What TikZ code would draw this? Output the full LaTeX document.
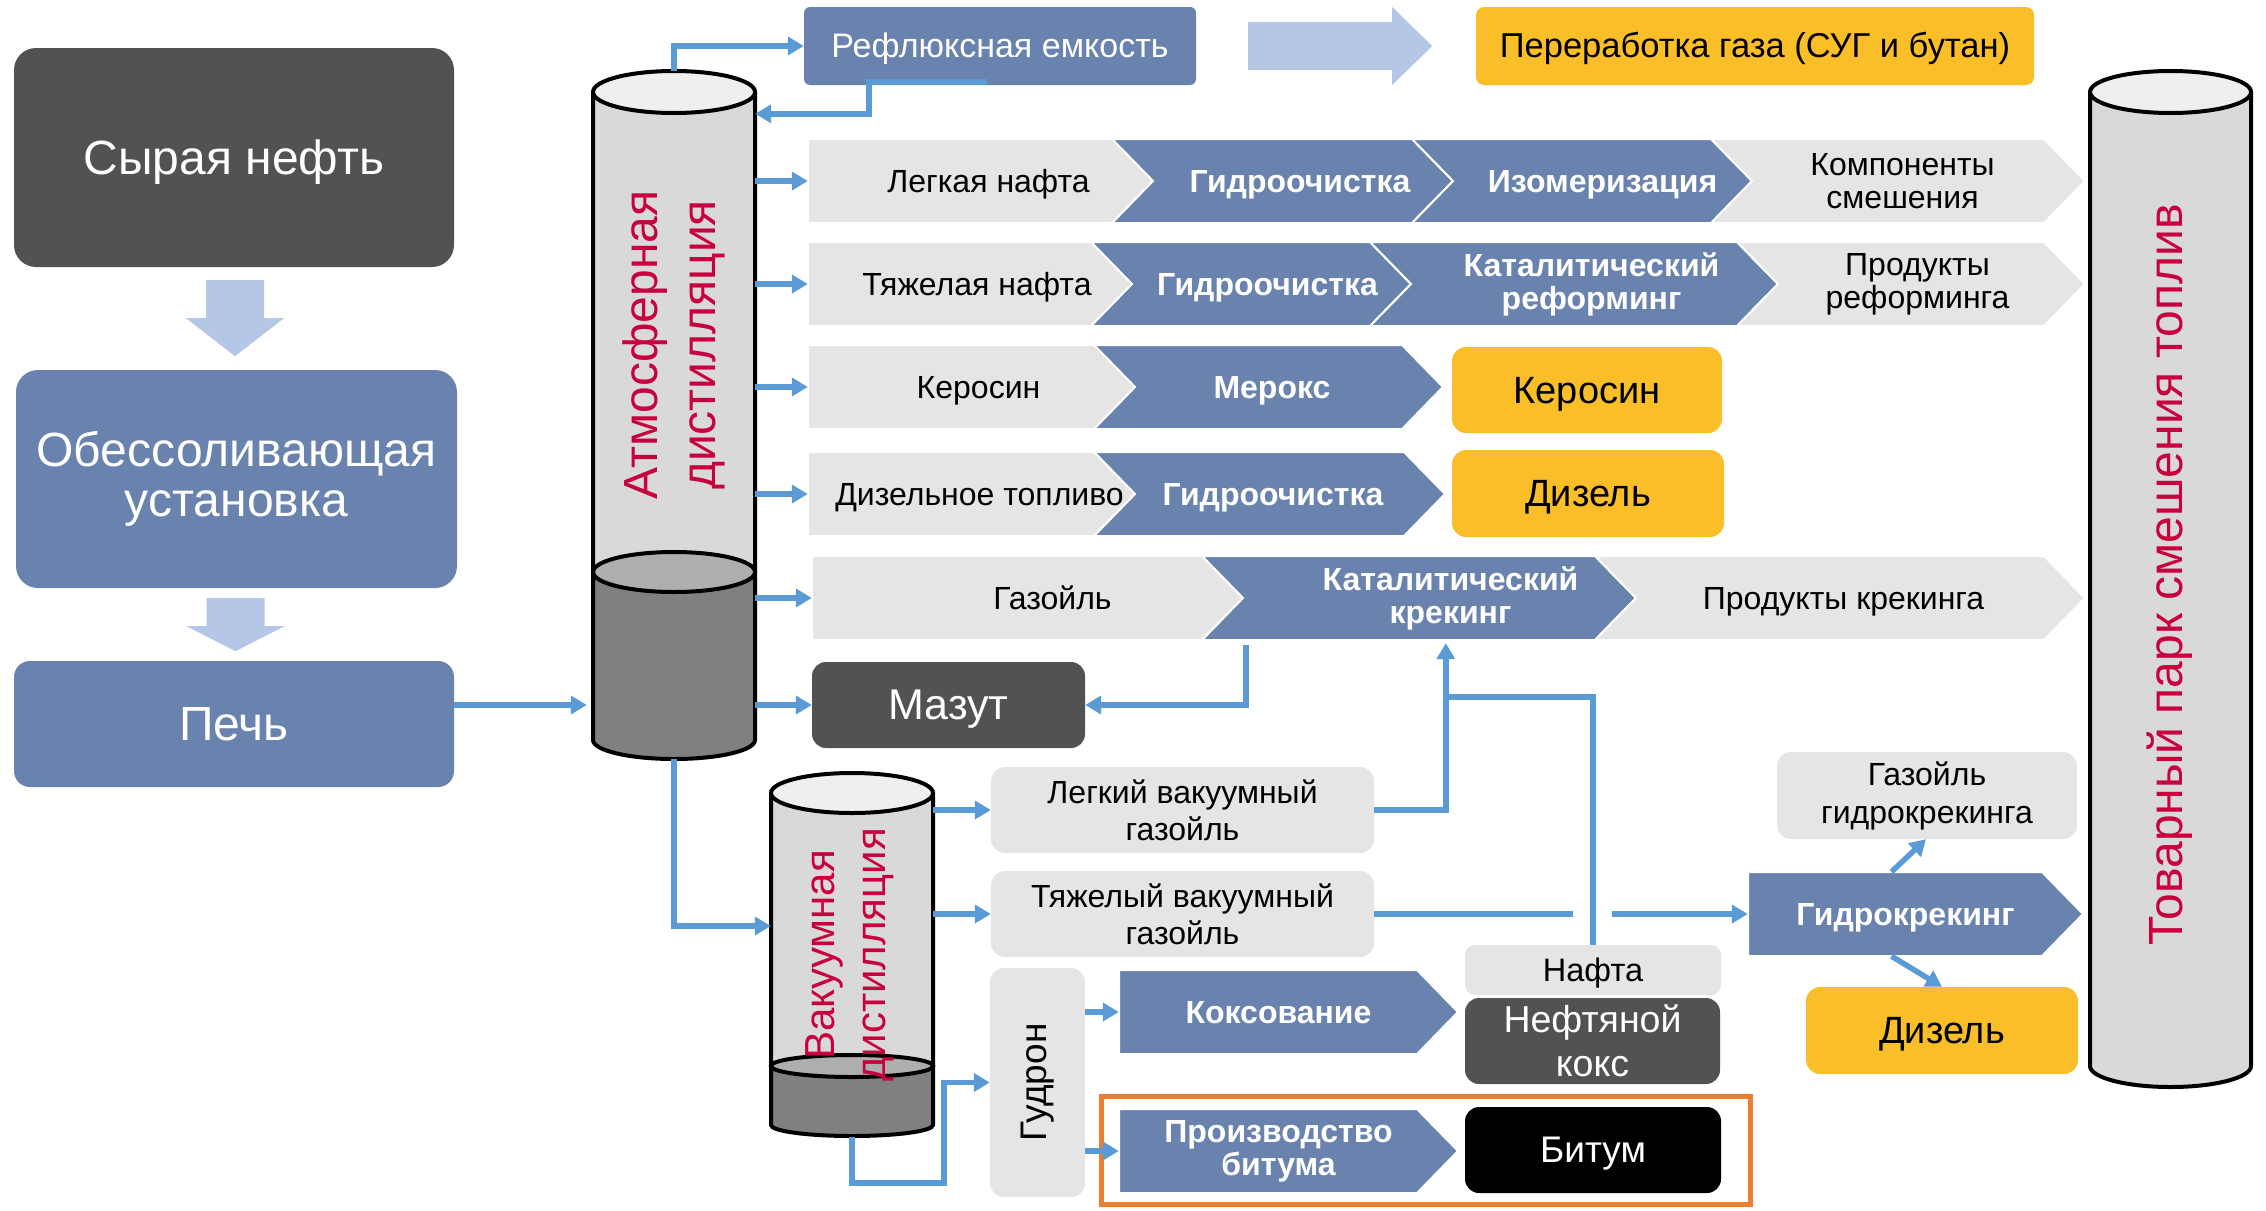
\documentclass[tikz,border=0pt]{standalone}
\usepackage{fontspec}
\setmainfont{Liberation Sans}
\usepackage{xcolor}
\usepackage{tikz}
\usetikzlibrary{calc}
\usetikzlibrary{arrows.meta}
\definecolor{darkfill}{HTML}{525252}
\definecolor{steel}{HTML}{6983AE}
\definecolor{lightbox}{HTML}{E5E5E5}
\definecolor{amber}{HTML}{F9BE28}
\definecolor{paleblue}{HTML}{B4C7E7}
\definecolor{flowblue}{HTML}{5B9BD5}
\definecolor{crimson}{HTML}{C8003E}
\definecolor{framecol}{HTML}{ED7D31}
\definecolor{colupper}{HTML}{D9D9D9}
\definecolor{coltop}{HTML}{EFEFEF}
\definecolor{liquidtop}{HTML}{AEAEAE}
\definecolor{liquid}{HTML}{808080}
\newcommand{\fsz}[2]{\fontsize{#1}{#2}\selectfont}
% [#1 text shift] #2 name, #3 style, #4 left, #5 body end, #6 centre y, #7 notch, #8 text
\newcommand{\chev}[8][0]{%
  \filldraw[#3, draw=white, line width=2pt] (#4,#6-42) -- (#5,#6-42) -- (#5+41,#6)
    -- (#5,#6+42) -- (#4,#6+42) -- (#4+#7,#6) -- cycle;
  \node[#3, fill=none, draw=none, inner sep=0pt, minimum height=84pt,
    minimum width={#5+41-#4-#7}] (#2) at ({(#4+#7+#5+41)/2},#6) {};
  \node[#3, fill=none, draw=none, inner sep=0pt] (#2txt) at ($(#2)+(#1,0)$) {#8};}

\begin{document}
\begin{tikzpicture}[x=1pt, y=-1pt,
  flow/.style={draw=flowblue, line width=5.5pt, -{Triangle[length=16pt,width=18pt]}},
  pipe/.style={draw=flowblue, line width=5.5pt},
  box/.style={inner sep=0pt, align=center, rounded corners=#1},
  box/.default=14pt,
  oneline/.style={text height=0.9*#1pt, text depth=0.21*#1pt},
  oneline/.default=32,
  darkbox/.style={fill=darkfill, text=white},
  steelbox/.style={fill=steel, text=white},
  amberbox/.style={fill=amber, text=black},
  greybox/.style={fill=lightbox, text=black},
  greychev/.style={fill=lightbox, text=black, align=center, font=\fsz{32}{33}},
  bluechev/.style={fill=steel, text=white, align=center, font=\bfseries\fsz{32}{33}},
  blockarrow/.style={fill=paleblue},
  colline/.style={draw=black, line width=4pt},
  coltext/.style={text=crimson, rotate=90, align=center, inner sep=0pt}]
  \useasboundingbox (0,0) rectangle (2266,1210);

  % left boxes
  \node[box=22pt, darkbox, oneline=48, minimum width=440pt, minimum height=219pt, font=\fsz{48}{52}] (crude) at (234,157.5) {Сырая нефть};
  \node[box=22pt, steelbox, minimum width=441pt, minimum height=218pt, font=\fsz{48}{50}] (desalt) at (236.5,479) {Обессоливающая\\установка};
  \node[box=16pt, steelbox, oneline=48, minimum width=440pt, minimum height=126pt, font=\fsz{48}{52}] (furnace) at (234,724) {Печь};
  \fill[blockarrow] ($(crude.south)+(-28,13)$) -- ++(0,38) -- ++(-20,0) -- ++(49,38)
    -- ++(49,-38) -- ++(-20,0) -- ++(0,-38) -- cycle;
  \fill[blockarrow] ($(desalt.south)+(-30,10)$) -- ++(0,28) -- ++(-20,0) -- ++(49,25)
    -- ++(49,-25) -- ++(-20,0) -- ++(0,-28) -- cycle;

  % atmospheric column
  \fill[colupper] (593,92) rectangle (755,572);
  \fill[liquid] (593,572) -- (593,740) arc[start angle=180, end angle=0, x radius=81, y radius=19] -- (755,572) -- cycle;
  \filldraw[colline, fill=liquidtop] (674,572) ellipse[x radius=81, y radius=20];
  \draw[colline] (593,92) -- (593,740) arc[start angle=180, end angle=0, x radius=81, y radius=19] -- (755,92);
  \filldraw[colline, fill=coltop] (674,92) ellipse[x radius=81, y radius=21];
  \node[inner sep=0pt, minimum width=162pt, minimum height=688pt] (atm) at (674,415) {};
  \node[coltext, font=\fsz{48}{58}] (atmlbl) at (674,345) {Атмосферная\\дистилляция};

  % vacuum column
  \fill[colupper] (771,793) rectangle (933,1066);
  \fill[liquid] (771,1066) -- (771,1125) arc[start angle=180, end angle=0, x radius=81, y radius=11] -- (933,1066) -- cycle;
  \filldraw[colline, fill=liquidtop] (852,1066) ellipse[x radius=81, y radius=11];
  \draw[colline] (771,793) -- (771,1125) arc[start angle=180, end angle=0, x radius=81, y radius=11] -- (933,793);
  \filldraw[colline, fill=coltop] (852,793) ellipse[x radius=81, y radius=20];
  \node[inner sep=0pt, minimum width=162pt, minimum height=364pt] (vac) at (852,955) {};
  \node[coltext, font=\fsz{42}{51}] (vaclbl) at (850,955) {Вакуумная\\дистилляция};

  % blending park column
  \fill[colupper] (2090,92) rectangle (2251,1066);
  \draw[colline, fill=colupper] (2090,92) -- (2090,1066) arc[start angle=180, end angle=0, x radius=80.5, y radius=21] -- (2251,92);
  \filldraw[colline, fill=coltop] (2170.5,92) ellipse[x radius=80.5, y radius=21];
  \node[coltext, font=\fsz{48}{58}] (parklbl) at (2170,575) {Товарный парк смешения топлив};

  % top row
  \node[box=6pt, steelbox, oneline=34, minimum width=392pt, minimum height=78pt, font=\fsz{34}{38}] (reflux) at (1000,46) {Рефлюксная емкость};
  \node[box=8pt, amberbox, oneline=34.5, minimum width=558pt, minimum height=78pt, font=\fsz{34.5}{38}] (gasplant) at (1755,46) {Переработка газа (СУГ и бутан)};
  \fill[blockarrow] ($(reflux.east)+(52,-24)$) -- ++(144,0) -- ++(0,-15) -- ++(40,39)
    -- ++(-40,39) -- ++(0,-15) -- ++(-144,0) -- cycle;

  % product rows
  \chev[8]{lnaph}{greychev, oneline}{808}{1112}{181}{0}{Легкая нафта}
  \chev[-3]{ltreat}{bluechev, oneline}{1112}{1412}{181}{41}{Гидроочистка}
  \chev{isom}{bluechev, oneline}{1412}{1711}{181}{41}{Изомеризация}
  \chev[-16]{blend}{greychev}{1711}{2044}{181}{41}{Компоненты\\смешения}

  \chev[7]{hnaph}{greychev, oneline}{808}{1091}{284}{0}{Тяжелая нафта}
  \chev[-4]{htreat}{bluechev, oneline}{1091}{1370}{284}{41}{Гидроочистка}
  \chev[-3]{reform}{bluechev}{1370}{1737}{284}{41}{Каталитический\\реформинг}
  \chev[-14]{reformate}{greychev}{1737}{2044}{284}{41}{Продукты\\реформинга}

  \chev[7]{kero}{greychev, oneline}{808}{1094}{387}{0}{Керосин}
  \chev[-17]{merox}{bluechev, oneline}{1094}{1402}{387}{41}{Мерокс}
  \node[box, amberbox, oneline=38, minimum width=270pt, minimum height=86pt, font=\fsz{38}{40}] (keroout) at (1587,390) {Керосин};

  \chev[8]{diesel}{greychev, oneline}{808}{1094}{494}{0}{Дизельное топливо}
  \chev[-17]{dtreat}{bluechev, oneline}{1094}{1404}{494}{41}{Гидроочистка}
  \node[box, amberbox, oneline=38, minimum width=272pt, minimum height=87pt, font=\fsz{38}{40}] (dieselout) at (1588,493.5) {Дизель};

  \chev[25]{gasoil}{greychev, oneline}{812}{1202}{598}{0}{Газойль}
  \chev[11]{fcc}{bluechev}{1202}{1595}{598}{41}{Каталитический\\крекинг}
  \chev[-17]{cracked}{greychev, oneline}{1595}{2044}{598}{41}{Продукты крекинга}

  \node[box, darkbox, oneline=43, minimum width=273pt, minimum height=86pt, font=\fsz{43}{46}] (mazut) at (948.5,705) {Мазут};

  % vacuum products
  \node[box, greybox, minimum width=383pt, minimum height=86pt, font=\fsz{32}{37}] (lvgo) at (1182.5,810) {Легкий вакуумный\\газойль};
  \node[box, greybox, minimum width=383pt, minimum height=86pt, font=\fsz{32}{37}] (hvgo) at (1182.5,914) {Тяжелый вакуумный\\газойль};
  \node[box, greybox, minimum width=95pt, minimum height=229pt, font=\fsz{37}{40}] (gudron) at (1037.5,1082.5) {\rotatebox{90}{Гудрон}};
  \chev[-10]{coking}{bluechev, oneline}{1119}{1417}{1012}{0}{Коксование}
  \chev[-10]{bitprod}{bluechev}{1119}{1417}{1151}{0}{Производство\\битума}
  \node[box=10pt, greybox, oneline=32.5, minimum width=256pt, minimum height=50pt, font=\fsz{32.5}{36}] (naphtha) at (1593,970) {Нафта};
  \node[box, darkbox, minimum width=255pt, minimum height=86pt, font=\fsz{37.5}{44}] (coke) at (1592.5,1041) {Нефтяной\\кокс};
  \node[box, fill=black, text=white, oneline=37, minimum width=256pt, minimum height=86pt, font=\fsz{37}{40}] (bitumen) at (1593,1150) {Битум};
  \draw[framecol, line width=5pt] (1101,1096) rectangle (1750,1204);
  \chev[-10]{hcrack}{bluechev, oneline}{1748}{2042}{914}{0}{Гидрокрекинг}
  \node[box, greybox, minimum width=300pt, minimum height=87pt, font=\fsz{32}{38}] (hcgo) at (1927,795.5) {Газойль\\гидрокрекинга};
  \node[box, amberbox, oneline=38, minimum width=272pt, minimum height=87pt, font=\fsz{38}{40}] (hcdiesel) at (1942,1030.5) {Дизель};

  % connectors
  \draw[flow, shorten >=6pt] (furnace.east |- mazut) -- (atm.west |- mazut);
  \foreach \n in {lnaph, hnaph, kero, diesel, gasoil, mazut}
    \draw[flow] (atm.east |- \n) -- (\n);
  \draw[flow] (atm.north) |- (reflux.west);
  \draw[flow] ($(reflux.south)+(-13,-3)$) -- ++(-118,0) |- ($(atm.north east)+(0,43)$);
  \draw[flow] ($(fcc.south west)+(3,5)$) |- (mazut.east);
  \draw[flow] (lvgo.east) -| ($(fcc.south west)+(203,3)$);
  \coordinate (nj) at ($(fcc.south west)+(203,57)$);
  \draw[pipe] (naphtha.north) |- (nj);
  \draw[pipe] (hvgo.east) -- ($(naphtha.north |- hvgo.east)+(-20,0)$);
  \draw[flow] ($(naphtha.north |- hvgo.east)+(19,0)$) -- (hcrack.west);
  \draw[flow] (atm.south) |- ($(vac.west)+(0,-29)$);
  \draw[flow] (vac.east |- lvgo) -- (lvgo);
  \draw[flow] (vac.east |- hvgo) -- (hvgo);
  \draw[flow] (vac.south) -- ++(0,46) -- ++(92,0) |- (gudron.west);
  \draw[flow] (gudron.east |- coking) -- (coking);
  \draw[flow] (gudron.east |- bitprod) -- (bitprod);
  \draw[flow] ($(hcrack.north)+(-24,0)$) -- ($(hcgo.south)+(-1,0)$);
  \draw[flow] ($(hcrack.south)+(-24,0)$) -- (hcdiesel.north);
\end{tikzpicture}
\end{document}
